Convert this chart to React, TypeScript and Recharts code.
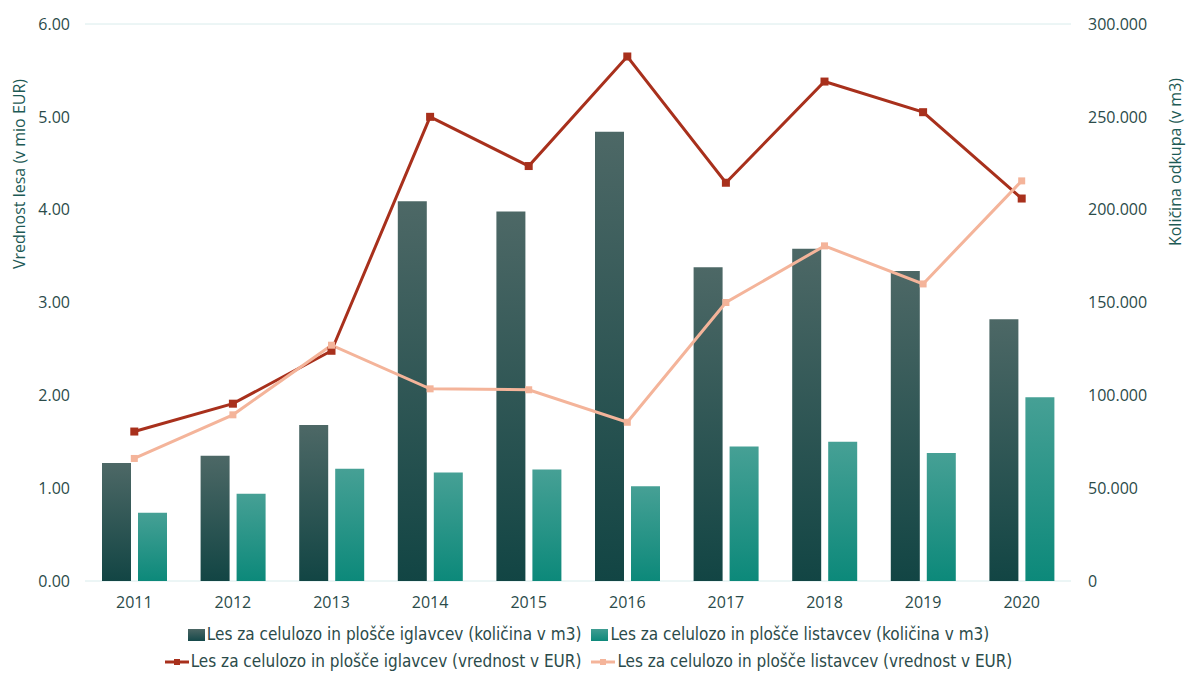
import React from "react";
import {
  Bar,
  CartesianGrid,
  ComposedChart,
  Legend,
  Line,
  XAxis,
  YAxis,
} from "recharts";

const years = ["2011", "2012", "2013", "2014", "2015", "2016", "2017", "2018", "2019", "2020"];
// kolicina v m3 (desna os)
const iglavciKolicina = [63500, 67500, 84000, 204500, 199000, 242000, 169000, 179000, 167000, 141000];
const listavciKolicina = [36800, 47000, 60500, 58500, 60000, 51000, 72500, 75000, 69000, 99000];
// vrednost v mio EUR (leva os)
const iglavciVrednost = [1.61, 1.91, 2.48, 5.0, 4.47, 5.65, 4.29, 5.38, 5.05, 4.12];
const listavciVrednost = [1.32, 1.79, 2.54, 2.07, 2.06, 1.71, 3.0, 3.61, 3.2, 4.31];

const leftTicks = [0, 1, 2, 3, 4, 5, 6];
const rightTicks = [0, 50000, 100000, 150000, 200000, 250000, 300000];

const labels = {
  igK: "Les za celulozo in plošče iglavcev (količina v m3)",
  liK: "Les za celulozo in plošče listavcev (količina v m3)",
  igV: "Les za celulozo in plošče iglavcev (vrednost v EUR)",
  liV: "Les za celulozo in plošče listavcev (vrednost v EUR)",
};

const data = years.map((y, i) => ({
  year: y,
  igK: iglavciKolicina[i],
  liK: listavciKolicina[i],
  igV: iglavciVrednost[i],
  liV: listavciVrednost[i],
}));

const RED = "#a8301c";
const PINK = "#f4b49a";
const TEXT = "#2b4b4a";
const AXIS_TITLE = "#1d5a55";
const TICK_FONT = "'Open Sans', sans-serif";
const LEGEND_FONT = "'Liberation Sans Narrow', 'DejaVu Sans Condensed', sans-serif";

const fmtThousands = (v: number) =>
  v === 0 ? "0" : String(v).replace(/\B(?=(\d{3})+(?!\d))/g, ".");

function SquareDot(color: string, size: number) {
  return (props: any) => {
    const { cx, cy, index } = props;
    if (cx == null || cy == null) return <g key={index} />;
    return (
      <rect
        key={index}
        x={cx - size / 2}
        y={cy - size / 2}
        width={size}
        height={size}
        fill={color}
      />
    );
  };
}

function LegendContent() {
  const item = (icon: React.ReactNode, text: string) => (
    <span style={{ display: "inline-flex", alignItems: "center", marginRight: 10 }}>
      {icon}
      <span>{text}</span>
    </span>
  );
  const box = (grad: string) => (
    <span style={{ display: "inline-block", width: 17, height: 12, background: grad, marginRight: 2 }} />
  );
  const lineIcon = (c: string) => (
    <svg width={24} height={10} style={{ marginRight: 2 }}>
      <line x1={0} y1={5} x2={24} y2={5} stroke={c} strokeWidth={3} />
      <rect x={9} y={2} width={6} height={6} fill={c} />
    </svg>
  );
  return (
    <div
      style={{
        fontFamily: LEGEND_FONT,
        fontSize: 17,
        color: TEXT,
        height: 64,
        paddingTop: 10,
        boxSizing: "border-box",
        lineHeight: "27px",
      }}
    >
      <div style={{ display: "flex", justifyContent: "center" }}>
        {item(box("linear-gradient(#4b6664, #15494a)"), labels.igK)}
        {item(box("linear-gradient(#3f9d92, #0e897b)"), labels.liK)}
      </div>
      <div style={{ display: "flex", justifyContent: "center" }}>
        {item(lineIcon(RED), labels.igV)}
        {item(lineIcon(PINK), labels.liV)}
      </div>
    </div>
  );
}

export default function App() {
  return (
    <div style={{ position: "absolute", left: 0, top: 0, background: "#fff" }}>
      <ComposedChart
        width={1187}
        height={675}
        data={data}
        margin={{ top: 24, right: 0, bottom: 0, left: 0 }}
        barCategoryGap={17}
        barGap={7}
      >
        <defs>
          <linearGradient id="gradIg" x1="0" y1="0" x2="0" y2="1">
            <stop offset="0%" stopColor="#4d6866" />
            <stop offset="100%" stopColor="#124544" />
          </linearGradient>
          <linearGradient id="gradLi" x1="0" y1="0" x2="0" y2="1">
            <stop offset="0%" stopColor="#46a095" />
            <stop offset="100%" stopColor="#0c897a" />
          </linearGradient>
        </defs>
        <CartesianGrid vertical={false} stroke="#d9ecec" />
        <XAxis
          dataKey="year"
          height={30}
          axisLine={false}
          tickLine={false}
          tickMargin={10}
          tick={{ fontSize: 16, fill: TEXT, fontFamily: TICK_FONT }}
        />
        <YAxis
          yAxisId="left"
          orientation="left"
          width={85}
          domain={[0, 6]}
          ticks={leftTicks}
          interval={0}
          axisLine={false}
          tickLine={false}
          tickMargin={9}
          tickFormatter={(v: number) => v.toFixed(2)}
          tick={{ fontSize: 16, fill: TEXT, fontFamily: TICK_FONT }}
          label={{
            content: (p: any) => {
              const vb = p.viewBox;
              const x = vb.x + 19;
              const y = vb.y + 150;
              return (
                <text
                  x={x}
                  y={y}
                  transform={`rotate(-90 ${x} ${y})`}
                  textAnchor="middle"
                  dominantBaseline="central"
                  fill={AXIS_TITLE}
                  fontSize={16}
                  fontFamily={TICK_FONT}
                >
                  Vrednost lesa (v mio EUR)
                </text>
              );
            },
          }}
        />
        <YAxis
          yAxisId="right"
          orientation="right"
          width={116}
          domain={[0, 300000]}
          ticks={rightTicks}
          interval={0}
          axisLine={false}
          tickLine={false}
          tickMargin={11}
          tickFormatter={fmtThousands}
          tick={{ fontSize: 16, fill: TEXT, fontFamily: TICK_FONT, textAnchor: "start" }}
          label={{
            content: (p: any) => {
              const vb = p.viewBox;
              const x = vb.x + 104;
              const y = vb.y + 138;
              return (
                <text
                  x={x}
                  y={y}
                  transform={`rotate(-90 ${x} ${y})`}
                  textAnchor="middle"
                  dominantBaseline="central"
                  fill={AXIS_TITLE}
                  fontSize={16}
                  fontFamily={TICK_FONT}
                >
                  Količina odkupa (v m3)
                </text>
              );
            },
          }}
        />
        <Legend verticalAlign="bottom" content={() => <LegendContent />} />
        <Bar yAxisId="right" dataKey="igK" name={labels.igK} fill="url(#gradIg)" isAnimationActive={false} />
        <Bar yAxisId="right" dataKey="liK" name={labels.liK} fill="url(#gradLi)" isAnimationActive={false} />
        <Line
          yAxisId="left"
          dataKey="igV"
          name={labels.igV}
          stroke={RED}
          strokeWidth={3}
          dot={SquareDot(RED, 8)}
          activeDot={false}
          isAnimationActive={false}
        />
        <Line
          yAxisId="left"
          dataKey="liV"
          name={labels.liV}
          stroke={PINK}
          strokeWidth={3}
          dot={SquareDot(PINK, 7)}
          activeDot={false}
          isAnimationActive={false}
        />
      </ComposedChart>
    </div>
  );
}
